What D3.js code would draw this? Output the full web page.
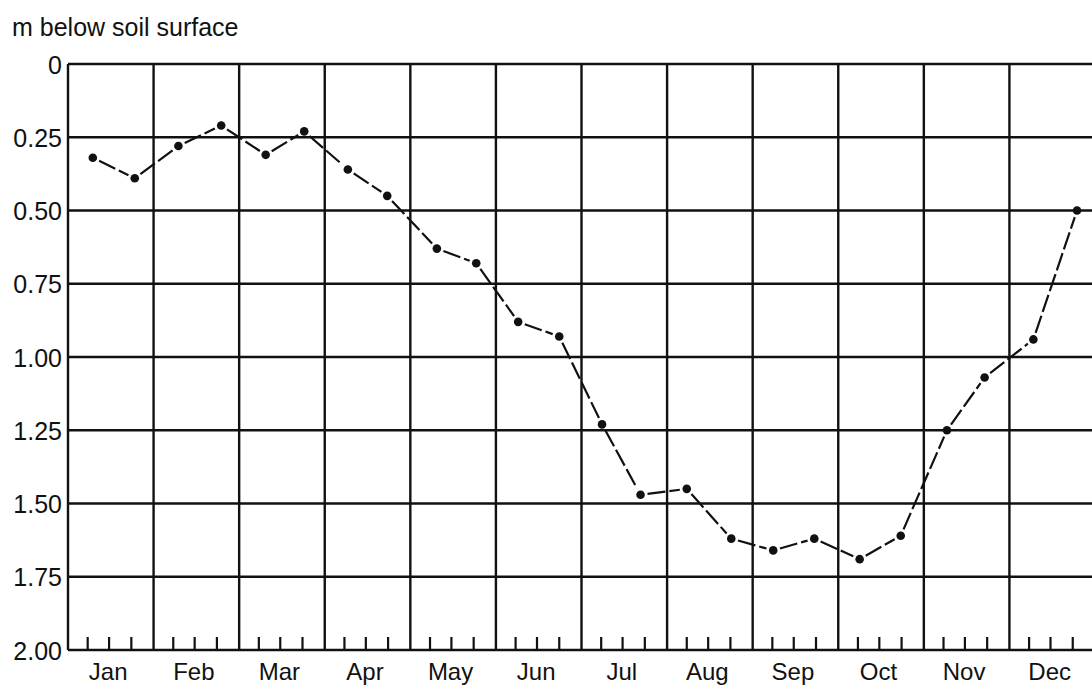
<!DOCTYPE html>
<html>
<head>
<meta charset="utf-8">
<script src="https://cdn.jsdelivr.net/npm/d3@7"></script>
<style>
  html, body { margin: 0; padding: 0; background: #fff; }
  svg { display: block; }
  text { font-family: "Liberation Sans", Arial, Helvetica, sans-serif; fill: #111; }
</style>
</head>
<body>
<svg id="chart" width="1092" height="685"></svg>
<script>
// ---- data ----
const months = ["Jan","Feb","Mar","Apr","May","Jun","Jul","Aug","Sep","Oct","Nov","Dec"];
const yTicks = [0, 0.25, 0.5, 0.75, 1.0, 1.25, 1.5, 1.75, 2.0];
const yTickLabels = ["0","0.25","0.50","0.75","1.00","1.25","1.50","1.75","2.00"];
// time of reading in months from 1 Jan (two readings per month)
const readingTime = [0.29,0.78, 1.29,1.79, 2.31,2.76, 3.27,3.73, 4.31,4.77, 5.26,5.74,
                     6.24,6.69, 7.23,7.75, 8.24,8.72, 9.25,9.73, 10.27,10.71, 11.28,11.79];
// water table depth, m below soil surface
const depth = [0.32,0.39, 0.28,0.21, 0.31,0.23, 0.36,0.45, 0.63,0.68, 0.88,0.93,
               1.23,1.47, 1.45,1.62, 1.66,1.62, 1.69,1.61, 1.25,1.07, 0.94,0.50];
const weekTicks = [0.23, 0.48, 0.74];

// ---- layout ----
const svg = d3.select("#chart");
const x = d3.scaleLinear().domain([0, 12]).range([68, 1095]);
const y = d3.scaleLinear().domain([0, 2]).range([64, 650]);

const g = svg.append("g");

// horizontal grid
g.selectAll("line.h").data(yTicks).join("line")
  .attr("x1", x(0)).attr("x2", x(12))
  .attr("y1", d => y(d)).attr("y2", d => y(d))
  .attr("stroke", "#111").attr("stroke-width", 2.4);

// vertical grid (month boundaries)
g.selectAll("line.v").data(d3.range(0, 12)).join("line")
  .attr("x1", d => x(d)).attr("x2", d => x(d))
  .attr("y1", y(0)).attr("y2", y(2))
  .attr("stroke", "#111").attr("stroke-width", 2.4);

// small week ticks along bottom
const wt = [];
months.forEach((m, i) => weekTicks.forEach(f => wt.push(i + f)));
g.selectAll("line.wt").data(wt).join("line")
  .attr("x1", d => x(d)).attr("x2", d => x(d))
  .attr("y1", y(2)).attr("y2", y(2) - 13)
  .attr("stroke", "#111").attr("stroke-width", 2.2);

// y tick labels
g.selectAll("text.yl").data(yTicks).join("text")
  .attr("x", 62).attr("y", d => y(d))
  .attr("dy", "0.38em")
  .attr("text-anchor", "end")
  .attr("font-size", 25)
  .text((d, i) => yTickLabels[i]);

// month labels
g.selectAll("text.ml").data(months).join("text")
  .attr("x", (d, i) => x(i + 0.47)).attr("y", 680)
  .attr("text-anchor", "middle")
  .attr("font-size", 24)
  .text(d => d);

// title
svg.append("text").attr("x", 12).attr("y", 36)
  .attr("font-size", 25).text("m below soil surface");

// series: dashed segments with gaps near dots
const pts = readingTime.map((t, i) => [x(t), y(depth[i])]);
const segs = d3.pairs(pts);
const gap = 7;
g.selectAll("line.seg").data(segs).join("line")
  .each(function([a, b]) {
    const dx = b[0] - a[0], dy = b[1] - a[1];
    const L = Math.hypot(dx, dy);
    const ux = dx / L, uy = dy / L;
    d3.select(this)
      .attr("x1", a[0] + ux * gap).attr("y1", a[1] + uy * gap)
      .attr("x2", b[0] - ux * gap).attr("y2", b[1] - uy * gap);
  })
  .attr("stroke", "#111").attr("stroke-width", 2.2)
  .attr("stroke-dasharray", "18,4");

g.selectAll("circle.pt").data(pts).join("circle")
  .attr("cx", d => d[0]).attr("cy", d => d[1]).attr("r", 4.3)
  .attr("fill", "#111");
</script>
</body>
</html>
